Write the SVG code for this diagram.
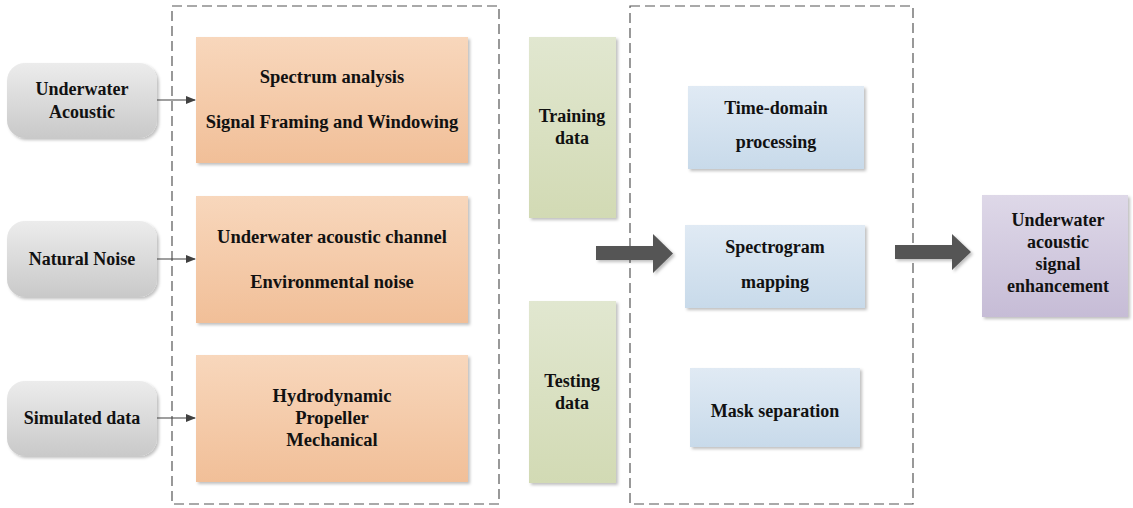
<svg xmlns="http://www.w3.org/2000/svg" width="1133" height="508" viewBox="0 0 1133 508">
<defs>
<linearGradient id="gGray" x1="0" y1="0" x2="0" y2="1"><stop offset="0" stop-color="#ececec"/><stop offset="1" stop-color="#c9c9c9"/></linearGradient>
<linearGradient id="gOrange" x1="0" y1="0" x2="0" y2="1"><stop offset="0" stop-color="#f8d7bc"/><stop offset="1" stop-color="#f1bf98"/></linearGradient>
<linearGradient id="gGreen" x1="0" y1="0" x2="0" y2="1"><stop offset="0" stop-color="#e1e7d0"/><stop offset="1" stop-color="#d2dab4"/></linearGradient>
<linearGradient id="gBlue" x1="0" y1="0" x2="0" y2="1"><stop offset="0" stop-color="#e0eaf4"/><stop offset="1" stop-color="#c8daea"/></linearGradient>
<linearGradient id="gPurple" x1="0" y1="0" x2="0" y2="1"><stop offset="0" stop-color="#ded8e8"/><stop offset="1" stop-color="#c6bcd6"/></linearGradient>
<filter id="sh" x="-10%" y="-10%" width="125%" height="125%"><feDropShadow dx="2" dy="2" stdDeviation="1.5" flood-color="#000" flood-opacity="0.25"/></filter>
<marker id="ah" markerWidth="10" markerHeight="8" refX="9" refY="4" orient="auto" markerUnits="userSpaceOnUse"><path d="M0,0 L10,4 L0,8 Z" fill="#404040"/></marker>
</defs>
<style>
.dash{fill:none;stroke:#555;stroke-width:1.2;stroke-dasharray:10,5}
.conn{stroke:#404040;stroke-width:1.2;fill:none}
.big{fill:#555;filter:url(#sh)}
</style>
<rect class="dash" x="172" y="6" width="327" height="498"/>
<rect class="dash" x="630" y="6" width="283" height="498"/>

<g font-family="Liberation Serif" font-weight="bold" font-size="18" fill="#111" text-anchor="middle">
<g id="n-underwater-acoustic"><rect x="7" y="63" width="150" height="75" rx="18" fill="url(#gGray)" filter="url(#sh)"/><text x="82" y="95">Underwater</text><text x="82" y="118">Acoustic</text></g>
<g id="n-natural-noise"><rect x="7" y="221" width="150" height="76" rx="18" fill="url(#gGray)" filter="url(#sh)"/><text x="82" y="265">Natural Noise</text></g>
<g id="n-simulated-data"><rect x="7" y="381" width="150" height="75" rx="18" fill="url(#gGray)" filter="url(#sh)"/><text x="82" y="424">Simulated data</text></g>

<g id="n-spectrum" font-size="18.5"><rect x="196" y="37" width="272" height="126" fill="url(#gOrange)" filter="url(#sh)"/><text x="332" y="83">Spectrum analysis</text><text x="332" y="128">Signal Framing and Windowing</text></g>
<g id="n-channel" font-size="18.5"><rect x="196" y="196" width="272" height="127" fill="url(#gOrange)" filter="url(#sh)"/><text x="332" y="243">Underwater acoustic channel</text><text x="332" y="288">Environmental noise</text></g>
<g id="n-hydro" font-size="18.5"><rect x="196" y="355" width="272" height="127" fill="url(#gOrange)" filter="url(#sh)"/><text x="332" y="402">Hydrodynamic</text><text x="332" y="424">Propeller</text><text x="332" y="446">Mechanical</text></g>

<g id="n-training"><rect x="529" y="37" width="87" height="181" fill="url(#gGreen)" filter="url(#sh)"/><text x="572" y="122">Training</text><text x="572" y="144">data</text></g>
<g id="n-testing"><rect x="529" y="301" width="87" height="182" fill="url(#gGreen)" filter="url(#sh)"/><text x="572" y="387">Testing</text><text x="572" y="409">data</text></g>

<g id="n-time"><rect x="688" y="86" width="176" height="83" fill="url(#gBlue)" filter="url(#sh)"/><text x="776" y="114">Time-domain</text><text x="776" y="148">processing</text></g>
<g id="n-spectrogram"><rect x="685" y="225" width="180" height="83" fill="url(#gBlue)" filter="url(#sh)"/><text x="775" y="253">Spectrogram</text><text x="775" y="288">mapping</text></g>
<g id="n-mask"><rect x="690" y="368" width="170" height="79" fill="url(#gBlue)" filter="url(#sh)"/><text x="775" y="417">Mask separation</text></g>

<g id="n-enhancement"><rect x="982" y="195" width="146" height="122" fill="url(#gPurple)" filter="url(#sh)"/><text x="1058" y="226">Underwater</text><text x="1058" y="248">acoustic</text><text x="1058" y="270">signal</text><text x="1058" y="292">enhancement</text></g>
</g>

<g id="connectors">
<line class="conn" x1="157" y1="100" x2="195" y2="100" marker-end="url(#ah)"/>
<line class="conn" x1="157" y1="259" x2="195" y2="259" marker-end="url(#ah)"/>
<line class="conn" x1="157" y1="418" x2="195" y2="418" marker-end="url(#ah)"/>
<path class="big" d="M596,246 H653 V234 L673,253.5 L653,273 V260 H596 Z"/>
<path class="big" d="M895,245 H952 V234 L971,252 L952,270 V259 H895 Z"/>
</g>
</svg>
